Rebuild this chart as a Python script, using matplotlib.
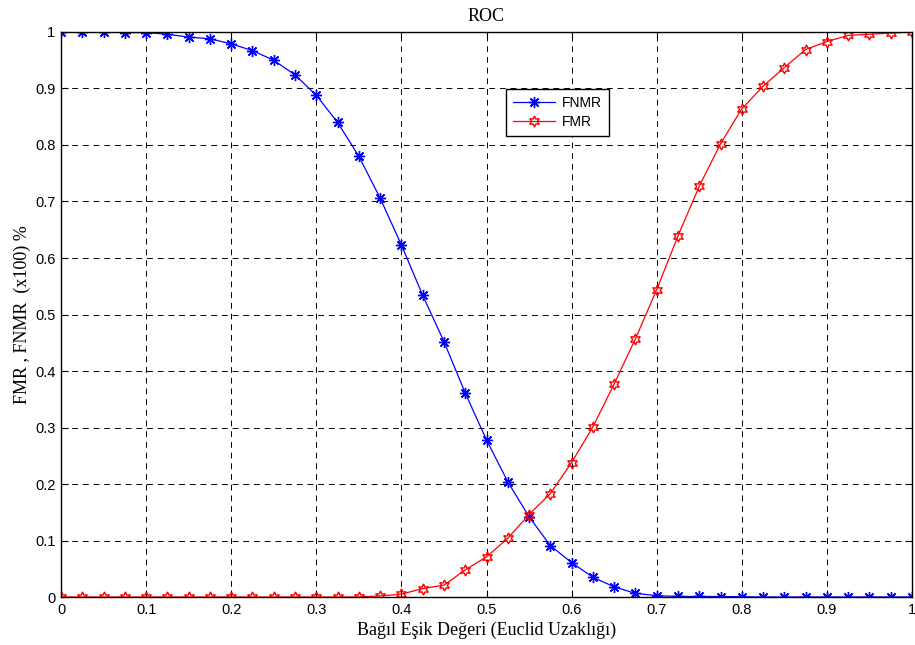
import numpy as np
import matplotlib
matplotlib.use('Agg')
import matplotlib.pyplot as plt

# threshold values (relative Euclid distance), step 0.025
esik = [i * 0.025 for i in range(41)]

# false non-match rate
fnmr = [1.000, 1.000, 1.000, 0.999, 0.999, 0.996, 0.991, 0.988, 0.979, 0.967,
        0.950, 0.924, 0.888, 0.840, 0.780, 0.706, 0.623, 0.534, 0.452, 0.361,
        0.278, 0.204, 0.142, 0.091, 0.061, 0.035, 0.018, 0.0065, 0.0024, 0.001,
        0.001, 0.0008, 0.0005, 0.0, 0.0, 0.0, 0.0, 0.0, 0.0, 0.0, 0.0]

# false match rate
fmr = [0.0, 0.0, 0.0, 0.0, 0.0, 0.0, 0.0, 0.0, 0.0, 0.0,
       0.0, 0.0, 0.0, 0.0, 0.0, 0.002, 0.005, 0.015, 0.021, 0.048,
       0.071, 0.104, 0.146, 0.183, 0.238, 0.301, 0.377, 0.457, 0.544, 0.639,
       0.727, 0.802, 0.864, 0.904, 0.937, 0.969, 0.983, 0.994, 0.996, 0.998, 1.000]

x_ticks = [0, 0.1, 0.2, 0.3, 0.4, 0.5, 0.6, 0.7, 0.8, 0.9, 1]
x_tick_labels = ['0', '0.1', '0.2', '0.3', '0.4', '0.5', '0.6', '0.7', '0.8', '0.9', '1']
y_ticks = x_ticks
y_tick_labels = x_tick_labels

serif = ['Liberation Serif', 'DejaVu Serif']
sans = ['Liberation Sans', 'DejaVu Sans']

fig = plt.figure(figsize=(9.15, 6.45), dpi=100)
ax = fig.add_axes([0.0667, 0.0744, 0.93, 0.876])

ax.plot(esik, fnmr, color='#0000ff', lw=0.9, marker=(8, 2, 0), ms=8,
        mew=1.0, label='FNMR')
ax.plot(esik, fmr, color='#ff0000', lw=0.9, marker=(6, 1, 0), ms=8,
        mfc='none', mew=1.0, label='FMR')

ax.set_xlim(0, 1)
ax.set_ylim(0, 1)
ax.set_xticks(x_ticks)
ax.set_xticklabels(x_tick_labels, family=sans, fontsize=10.5)
ax.set_yticks(y_ticks)
ax.set_yticklabels(y_tick_labels, family=sans, fontsize=10.5)
ax.tick_params(direction='in', top=True, right=True, length=5, width=0.8, pad=4)

ax.grid(True, color='black', ls=(0, (6, 5)), lw=0.7)
for s in ax.spines.values():
    s.set_linewidth(1.0)

ax.set_title('ROC', family=serif, fontsize=13, pad=8)
ax.set_xlabel('Bağıl Eşik Değeri (Euclid Uzaklığı)', family=serif, fontsize=13, labelpad=4)
ax.set_ylabel('FMR , FNMR  (x100) %', family=serif, fontsize=13, labelpad=3)

leg = ax.legend(loc='upper left', bbox_to_anchor=(0.523, 0.899), borderaxespad=0,
                frameon=True, fancybox=False, edgecolor='black', framealpha=1,
                prop={'family': sans, 'size': 10}, handlelength=3.0,
                borderpad=0.5, labelspacing=0.35, handletextpad=0.5)
leg.get_frame().set_linewidth(1.0)

fig.savefig('out.png', dpi=100)
